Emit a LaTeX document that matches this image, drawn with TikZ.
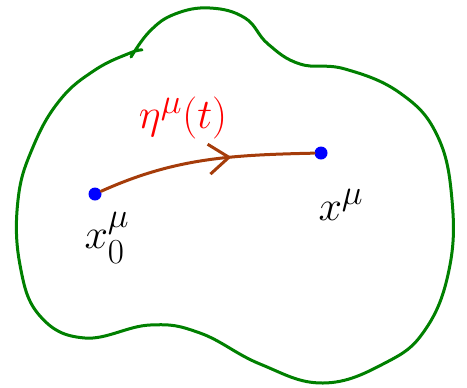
\documentclass[tikz,border=0pt]{standalone}
\usepackage{amsmath}
\usepackage{tikz}
\usetikzlibrary{arrows.meta,decorations.markings}
\definecolor{pathbrown}{RGB}{165,60,10}
\definecolor{blobgreen}{RGB}{0,128,0}
\tikzset{
  dot/.style={circle,fill=blue,inner sep=0pt,minimum size=13bp},
  blob/.style={draw=blobgreen,line width=3bp,line cap=round},
  flow/.style={draw=pathbrown,line width=3bp,line cap=round,postaction={decorate},
    decoration={markings,mark=at position 0.62 with {\arrow[pathbrown,line width=3bp]{Straight Barb[length=20bp,width=30bp]}}}},
  lbl/.style={inner sep=0pt,font=\Huge,scale=1.7}
}
\begin{document}
\begin{tikzpicture}[x=1bp,y=-1bp]
  \useasboundingbox (0,0) rectangle (467,387);
  \draw[blob] plot[smooth,tension=0.7] coordinates {(131,57) (150,31) (175,14) (210,8) (245,18) (268,44) (300,64) (345,69) (400,93) (437,135) (452,200) (449,270) (425,330) (385,363) (323,383) (260,364) (200,333) (150,325) (85,338) (40,316) (20,265) (18,200) (33,147) (60,100) (95,70) (130,53) (142,50)};
  \node[dot] (x0) at (95,194) {};
  \node[dot] (x1) at (321,153) {};
  \draw[flow] (x0) .. controls (175,158) and (230,155) .. (x1);
  \node[lbl,text=red] (eta) at (183,118) {$\eta^{\mu}(t)$};
  \node[lbl] (lx0) at (107,238) {$x^{\mu}_{0}$};
  \node[lbl] (lx1) at (341,205) {$x^{\mu}$};
\end{tikzpicture}
\end{document}
